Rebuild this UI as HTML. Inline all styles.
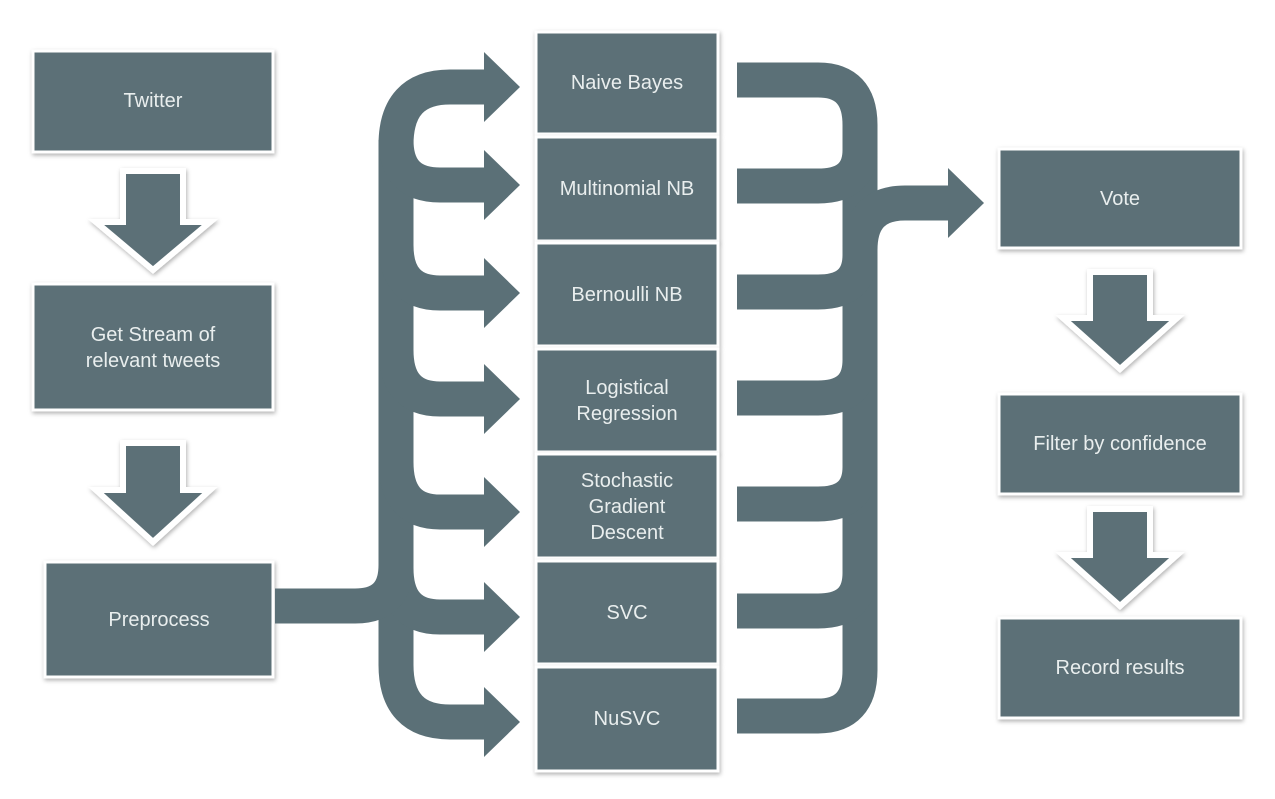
<!DOCTYPE html>
<html><head><meta charset="utf-8"><style>
body{margin:0;background:#fff;}
svg{display:block;font-family:"Liberation Sans",sans-serif;}
.b{fill:#5b7077;stroke:#fff;stroke-width:3;filter:url(#sh);}
.t{fill:#e9eeee;font-size:20px;text-anchor:middle;}
.s{fill:none;stroke:#5b7077;stroke-width:35;}
</style></head><body>
<svg width="1275" height="799" viewBox="0 0 1275 799">
<defs><filter id="sh" x="-10%" y="-10%" width="130%" height="130%"><feDropShadow dx="1" dy="2" stdDeviation="2" flood-color="#000" flood-opacity="0.3"/></filter></defs>

<!-- left boxes -->
<rect class="b" x="33" y="51" width="240" height="101"/>
<text class="t" x="153" y="107">Twitter</text>
<rect class="b" x="33" y="284" width="240" height="126"/>
<text class="t" x="153" y="341">Get Stream of</text>
<text class="t" x="153" y="367">relevant tweets</text>
<rect class="b" x="45" y="562" width="228" height="115"/>
<text class="t" x="159" y="626">Preprocess</text>

<!-- down arrows -->
<g filter="url(#sh)" fill="#5b7077" stroke="#fff" stroke-width="6" stroke-linejoin="miter">
<polygon points="123,171 183,171 183,222 210,222 153,270 96,222 123,222"/>
<polygon points="123,443 183,443 183,490 210,490 153,542 96,490 123,490"/>
<polygon points="1090,272 1150,272 1150,318 1177,318 1120,369 1063,318 1090,318"/>
<polygon points="1090,509 1150,509 1150,555 1177,555 1120,606 1063,555 1090,555"/>
</g>

<!-- left fan -->
<path class="s" d="M492 87 H450 Q396 87 396 145 V665 Q396 722 450 722 H492"/>
<g class="s">
<path class="s" d="M396 140 Q396 185 440 185 H492"/>
<path class="s" d="M396 245 Q396 293 440 293 H492"/>
<path class="s" d="M396 350 Q396 399 440 399 H492"/>
<path class="s" d="M396 462 Q396 512 440 512 H492"/>
<path class="s" d="M396 568 Q396 617 440 617 H492"/>
<path class="s" d="M275 606 H355 Q396 606 396 565"/>
</g>
<g fill="#5b7077">
<polygon points="484,52 520,87 484,122"/>
<polygon points="484,150 520,185 484,220"/>
<polygon points="484,258 520,293 484,328"/>
<polygon points="484,364 520,399 484,434"/>
<polygon points="484,477 520,512 484,547"/>
<polygon points="484,582 520,617 484,652"/>
<polygon points="484,687 520,722 484,757"/>
</g>

<!-- right merge -->
<path class="s" d="M737 80 H818 Q860 80 860 125 V670 Q860 716 818 716 H737"/>
<path class="s" d="M737 186 H818 Q860 186 860 150"/>
<path class="s" d="M737 292 H818 Q860 292 860 255"/>
<path class="s" d="M737 398 H818 Q860 398 860 360"/>
<path class="s" d="M737 504 H818 Q860 504 860 467"/>
<path class="s" d="M737 611 H818 Q860 611 860 573"/>
<path class="s" d="M860 250 Q860 203 905 203 H955"/>
<polygon fill="#5b7077" points="948,168 984,203 948,238"/>

<!-- middle boxes -->
<rect class="b" x="536" y="32" width="182" height="102"/>
<text class="t" x="627" y="89">Naive  Bayes</text>
<rect class="b" x="536" y="137" width="182" height="104"/>
<text class="t" x="627" y="195">Multinomial NB</text>
<rect class="b" x="536" y="243" width="182" height="103"/>
<text class="t" x="627" y="301">Bernoulli NB</text>
<rect class="b" x="536" y="349" width="182" height="103"/>
<text class="t" x="627" y="394">Logistical</text>
<text class="t" x="627" y="420">Regression</text>
<rect class="b" x="536" y="454" width="182" height="104"/>
<text class="t" x="627" y="487">Stochastic</text>
<text class="t" x="627" y="513">Gradient</text>
<text class="t" x="627" y="539">Descent</text>
<rect class="b" x="536" y="561" width="182" height="103"/>
<text class="t" x="627" y="619">SVC</text>
<rect class="b" x="536" y="667" width="182" height="104"/>
<text class="t" x="627" y="725">NuSVC</text>

<!-- right boxes -->
<rect class="b" x="999" y="149" width="242" height="99"/>
<text class="t" x="1120" y="205">Vote</text>
<rect class="b" x="999" y="394" width="242" height="100"/>
<text class="t" x="1120" y="450">Filter by confidence</text>
<rect class="b" x="999" y="618" width="242" height="100"/>
<text class="t" x="1120" y="674">Record results</text>
</svg>
</body></html>
